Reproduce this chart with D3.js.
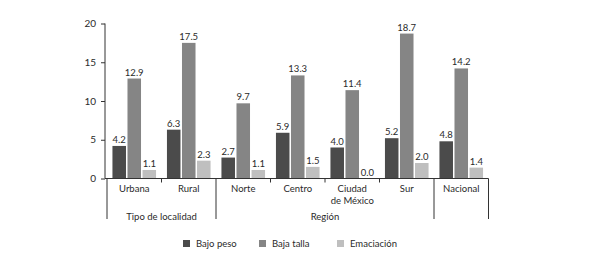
<!DOCTYPE html>
<html>
<head>
<meta charset="utf-8">
<script src="https://cdn.jsdelivr.net/npm/d3@7"></script>
<style>
  body { margin: 0; background: #fff; }
  text { font-family: "Lato", "Open Sans", sans-serif; fill: #2a2a2a; }
</style>
</head>
<body>
<script>
// data
const categories = ["Urbana", "Rural", "Norte", "Centro", "Ciudad de México", "Sur", "Nacional"];
const seriesNames = ["Bajo peso", "Baja talla", "Emaciación"];
const bajoPeso = [4.2, 6.3, 2.7, 5.9, 4.0, 5.2, 4.8];
const bajaTalla = [12.9, 17.5, 9.7, 13.3, 11.4, 18.7, 14.2];
const emaciacion = [1.1, 2.3, 1.1, 1.5, 0.0, 2.0, 1.4];
const yTicks = [0, 5, 10, 15, 20];
const groups = [
    { name: "Tipo de localidad", from: "Urbana", to: "Rural" },
    { name: "Región", from: "Norte", to: "Sur" },
    { name: "", from: "Nacional", to: "Nacional" }
];

function main() {
    const colors = ["#4b4b4b", "#858585", "#bfbfbf"];
    const seriesValues = [bajoPeso, bajaTalla, emaciacion];

    const svg = d3.select("body").append("svg")
        .attr("width", 589)
        .attr("height", 253);

    const axisY = 178.5;
    const x0 = d3.scaleBand().domain(categories).range([107, 488.5])
        .paddingInner(0.2).paddingOuter(0.1);
    const x1 = d3.scaleBand().domain(seriesNames).range([0, x0.bandwidth()])
        .paddingInner(0.1);
    const y = d3.scaleLinear().domain([0, 20]).range([axisY, 23.5]);

    // y axis
    const yAxis = svg.append("g")
        .attr("transform", "translate(105,0)")
        .call(d3.axisLeft(y).tickValues(yTicks).tickSize(4).tickPadding(5));
    yAxis.select(".domain").attr("stroke", "#333").attr("d", "M0," + y(20) + "V" + axisY);
    yAxis.selectAll(".tick line").attr("stroke", "#333");
    yAxis.selectAll("text").style("font-size", "10px").attr("fill", "#2a2a2a");

    // bars
    const g = svg.append("g");
    categories.forEach((c, i) => {
        seriesNames.forEach((s, j) => {
            const v = seriesValues[j][i];
            g.append("rect")
                .attr("x", x0(c) + x1(s))
                .attr("y", y(v))
                .attr("width", x1.bandwidth())
                .attr("height", axisY - y(v))
                .attr("fill", colors[j]);
            g.append("text")
                .attr("x", x0(c) + x1(s) + x1.bandwidth() / 2)
                .attr("y", y(v) - 3)
                .attr("text-anchor", "middle")
                .style("font-size", "9.5px")
                .text(v.toFixed(1));
        });
    });

    // x baseline
    svg.append("line")
        .attr("x1", 105).attr("x2", x0.range()[1])
        .attr("y1", axisY).attr("y2", axisY)
        .attr("stroke", "#333");

    // category labels
    categories.forEach(c => {
        const cx = x0(c) + x0.bandwidth() / 2;
        const lines = c === "Ciudad de México" ? ["Ciudad", "de México"] : [c];
        lines.forEach((t, k) => {
            svg.append("text")
                .attr("x", cx)
                .attr("y", 192 + k * 12)
                .attr("text-anchor", "middle")
                .style("font-size", "9.5px")
                .text(t);
        });
    });

    // small ticks between categories and long group separators
    const step = x0.step();
    const left = x0.range()[0];
    const boundaries = d3.range(categories.length + 1).map(i => left + i * step);
    const groupEdges = new Set();
    groups.forEach(gr => {
        groupEdges.add(categories.indexOf(gr.from));
        groupEdges.add(categories.indexOf(gr.to) + 1);
    });
    boundaries.forEach((bx, i) => {
        const long = groupEdges.has(i);
        svg.append("line")
            .attr("x1", bx).attr("x2", bx)
            .attr("y1", axisY).attr("y2", long ? 219 : axisY + 4)
            .attr("stroke", "#333");
    });

    // group labels
    groups.forEach(gr => {
        if (!gr.name) return;
        const a = boundaries[categories.indexOf(gr.from)];
        const b = boundaries[categories.indexOf(gr.to) + 1];
        svg.append("text")
            .attr("x", (a + b) / 2)
            .attr("y", 220)
            .attr("text-anchor", "middle")
            .style("font-size", "9.5px")
            .text(gr.name);
    });

    // legend
    const legendX = [183, 259, 337];
    seriesNames.forEach((s, j) => {
        svg.append("rect")
            .attr("x", legendX[j]).attr("y", 240)
            .attr("width", 7).attr("height", 7)
            .attr("fill", colors[j]);
        svg.append("text")
            .attr("x", legendX[j] + 13).attr("y", 247)
            .style("font-size", "9.5px")
            .text(s);
    });
}
main();
</script>
</body>
</html>
